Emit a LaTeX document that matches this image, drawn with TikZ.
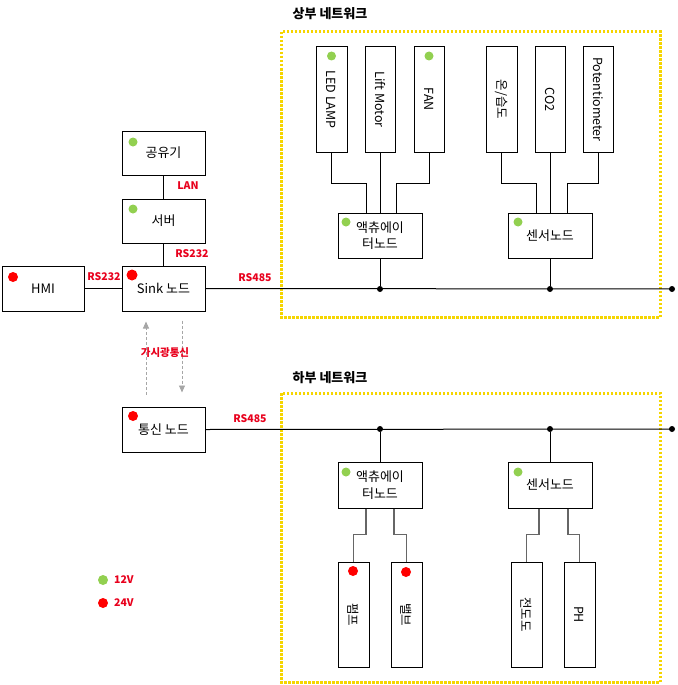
\documentclass[tikz,border=0pt]{standalone}
\usepackage{fontspec}
\setmainfont{Noto Sans CJK KR}
\usetikzlibrary{arrows.meta,calc}
\definecolor{gdot}{HTML}{92D050}
\definecolor{rdot}{HTML}{FF0000}
\definecolor{lab}{HTML}{E8001C}
\definecolor{ylw}{HTML}{F5D500}
\begin{document}
\begin{tikzpicture}[x=1pt,y=-1pt,
 box/.style={draw, line width=1pt, fill=white, inner sep=0pt, font=\fontsize{13}{16.5}\selectfont, align=center},
 vtxt/.style={font=\fontsize{12.5}{15}\selectfont},
 lbl/.style={text=lab, inner sep=0pt, font=\bfseries\fontsize{10.5}{12}\selectfont},
 ttl/.style={inner sep=0pt, font=\bfseries\fontsize{13}{15}\selectfont},
 gd/.style={circle, fill=gdot, inner sep=0pt, minimum size=9pt},
 rd/.style={circle, fill=rdot, inner sep=0pt, minimum size=10pt},
 jn/.style={circle, fill=black, inner sep=0pt, minimum size=6pt},
 wire/.style={line width=1pt},
 gwire/.style={line width=1.1pt, draw=black!60},
 zone/.style={draw=ylw, line width=3pt, dash pattern=on 2.5pt off 1.5pt},
 lightarrow/.style={draw=black!35, line width=0.9pt, dash pattern=on 3pt off 2pt, -{Triangle[width=6pt,length=7pt]}}
]
\useasboundingbox (0,0) rectangle (677,685);

% zones and titles
\draw[zone] (281,32) rectangle (660,317);
\draw[zone] (281,393) rectangle (660,682);
\node[ttl] (t1) at (330,14) {상부 네트워크};
\node[ttl] (t2) at (330,378) {하부 네트워크};

% left column
\node[box, minimum width=83, minimum height=44] (router) at (163.5,153) {공유기};
\node[box, minimum width=83, minimum height=44] (server) at (163.5,221) {서버};
\node[box, minimum width=83, minimum height=45] (sink) at (163.5,288.5) {Sink 노드};
\node[box, minimum width=82, minimum height=45] (hmi) at (43,288.5) {HMI};
\node[box, minimum width=83, minimum height=45] (comm) at (163.5,429.5) {통신 노드};

\node[gd] (dr) at (133,142) {};
\node[gd] (ds) at (133,209) {};
\node[rd, minimum size=11pt] (dk) at (132,275) {};
\node[rd] (dh) at (13,277) {};
\node[rd] (dc) at (133,416) {};

\draw[wire] (router) -- (server);
\draw[wire] (server) -- (sink);
\draw[wire] (hmi) -- (sink);

\node[lbl] (lan) at (188,186) {LAN};
\node[lbl] (rs1) at (192,254) {RS232};
\node[lbl] (rs2) at (104,277) {RS232};
\node[lbl] (rs3) at (255,278) {RS485};
\node[lbl] (rs4) at (250,419) {RS485};

% visible light link
\draw[lightarrow] ([xshift=-17.5pt,yshift=12pt]comm.north) -- ([xshift=-17.5pt,yshift=-10pt]sink.south);
\draw[lightarrow] ([xshift=18.5pt,yshift=-9pt]sink.south) -- ([xshift=18.5pt,yshift=14pt]comm.north);
\node[lbl] (vlc) at (165,353) {가시광통신};

% upper network
\node[box, vtxt, minimum width=31, minimum height=105] (led) at (331.5,99.5) {\rotatebox{-90}{LED LAMP}};
\node[box, vtxt, minimum width=30, minimum height=105] (lift) at (380,99.5) {\rotatebox{-90}{Lift Motor}};
\node[box, vtxt, minimum width=30, minimum height=105] (fan) at (429,99.5) {\rotatebox{-90}{FAN}};
\node[box, vtxt, minimum width=31, minimum height=105] (temp) at (501.5,99.5) {\rotatebox{-90}{온/습도}};
\node[box, vtxt, minimum width=30, minimum height=105] (co2) at (550,99.5) {\rotatebox{-90}{CO2}};
\node[box, vtxt, minimum width=30, minimum height=105] (pot) at (598,99.5) {\rotatebox{-90}{Potentiometer}};
\node[gd] (dled) at (331.5,56) {};
\node[gd] (dfan) at (429,56) {};

\node[box, minimum width=84, minimum height=45] (uact) at (380,235.5) {액츄에이\\터노드};
\node[box, minimum width=84, minimum height=45] (usen) at (550,235.5) {센서노드};
\node[gd] (dua) at (346,222) {};
\node[gd] (dus) at (518,222) {};

\draw[wire] (led.south) -- (led.south |- 0,183) -| ([xshift=-14pt]uact.north);
\draw[wire] (lift) -- (uact);
\draw[wire] (fan.south) -- (fan.south |- 0,183) -| ([xshift=16pt]uact.north);
\draw[wire] (temp.south) -- (temp.south |- 0,183) -| ([xshift=-14pt]usen.north);
\draw[wire] (co2) -- (usen);
\draw[wire] (pot.south) -- (pot.south |- 0,183) -| ([xshift=17pt]usen.north);

\coordinate (ubusend) at (672,289);
\draw[wire] (sink.east) -- (ubusend);
\node[jn] (ue) at (ubusend) {};
\node[jn] (uj1) at (380,289) {};
\node[jn] (uj2) at (550,289) {};
\draw[wire] (uact) -- (uj1);
\draw[wire] (usen) -- (uj2);

% lower network
\coordinate (lbusend) at (672,429);
\draw[wire] (comm.east) -- (lbusend);
\node[jn] (le) at (lbusend) {};
\node[jn] (lj1) at (380,429) {};
\node[jn] (lj2) at (550,429) {};

\node[box, minimum width=84, minimum height=46] (lact) at (380,485) {액츄에이\\터노드};
\node[box, minimum width=84, minimum height=46] (lsen) at (550,485) {센서노드};
\node[gd] (dla) at (346,472) {};
\node[gd] (dls) at (518,472) {};
\draw[wire] (lj1) -- (lact);
\draw[wire] (lj2) -- (lsen);

\node[box, vtxt, minimum width=31, minimum height=105] (pump) at (353.5,614.5) {\rotatebox{-90}{펌프}};
\node[box, vtxt, minimum width=31, minimum height=105] (valve) at (406.5,614.5) {\rotatebox{-90}{밸브}};
\node[box, vtxt, minimum width=31, minimum height=105] (cond) at (526.5,614.5) {\rotatebox{-90}{전도도}};
\node[box, vtxt, minimum width=31, minimum height=105] (ph) at (579.5,614.5) {\rotatebox{-90}{PH}};
\node[rd] (dp) at (353,571) {};
\node[rd] (dv) at (406,572) {};

\draw[gwire] ([xshift=-14pt]lact.south) -- ++(0,26) -| (pump.north);
\draw[gwire] ([xshift=14pt]lact.south) -- ++(0,26) -| (valve.north);
\draw[gwire] ([xshift=-11pt]lsen.south) -- ++(0,26) -| (cond.north);
\draw[gwire] ([xshift=18pt]lsen.south) -- ++(0,26) -| (ph.north);

% legend
\node[gd, minimum size=10pt] (lg1) at (103,580) {};
\node[lbl, anchor=west] (l12) at (114,580) {12V};
\node[rd] (lg2) at (103,603) {};
\node[lbl, anchor=west] (l24) at (114,603) {24V};
\end{tikzpicture}
\end{document}
